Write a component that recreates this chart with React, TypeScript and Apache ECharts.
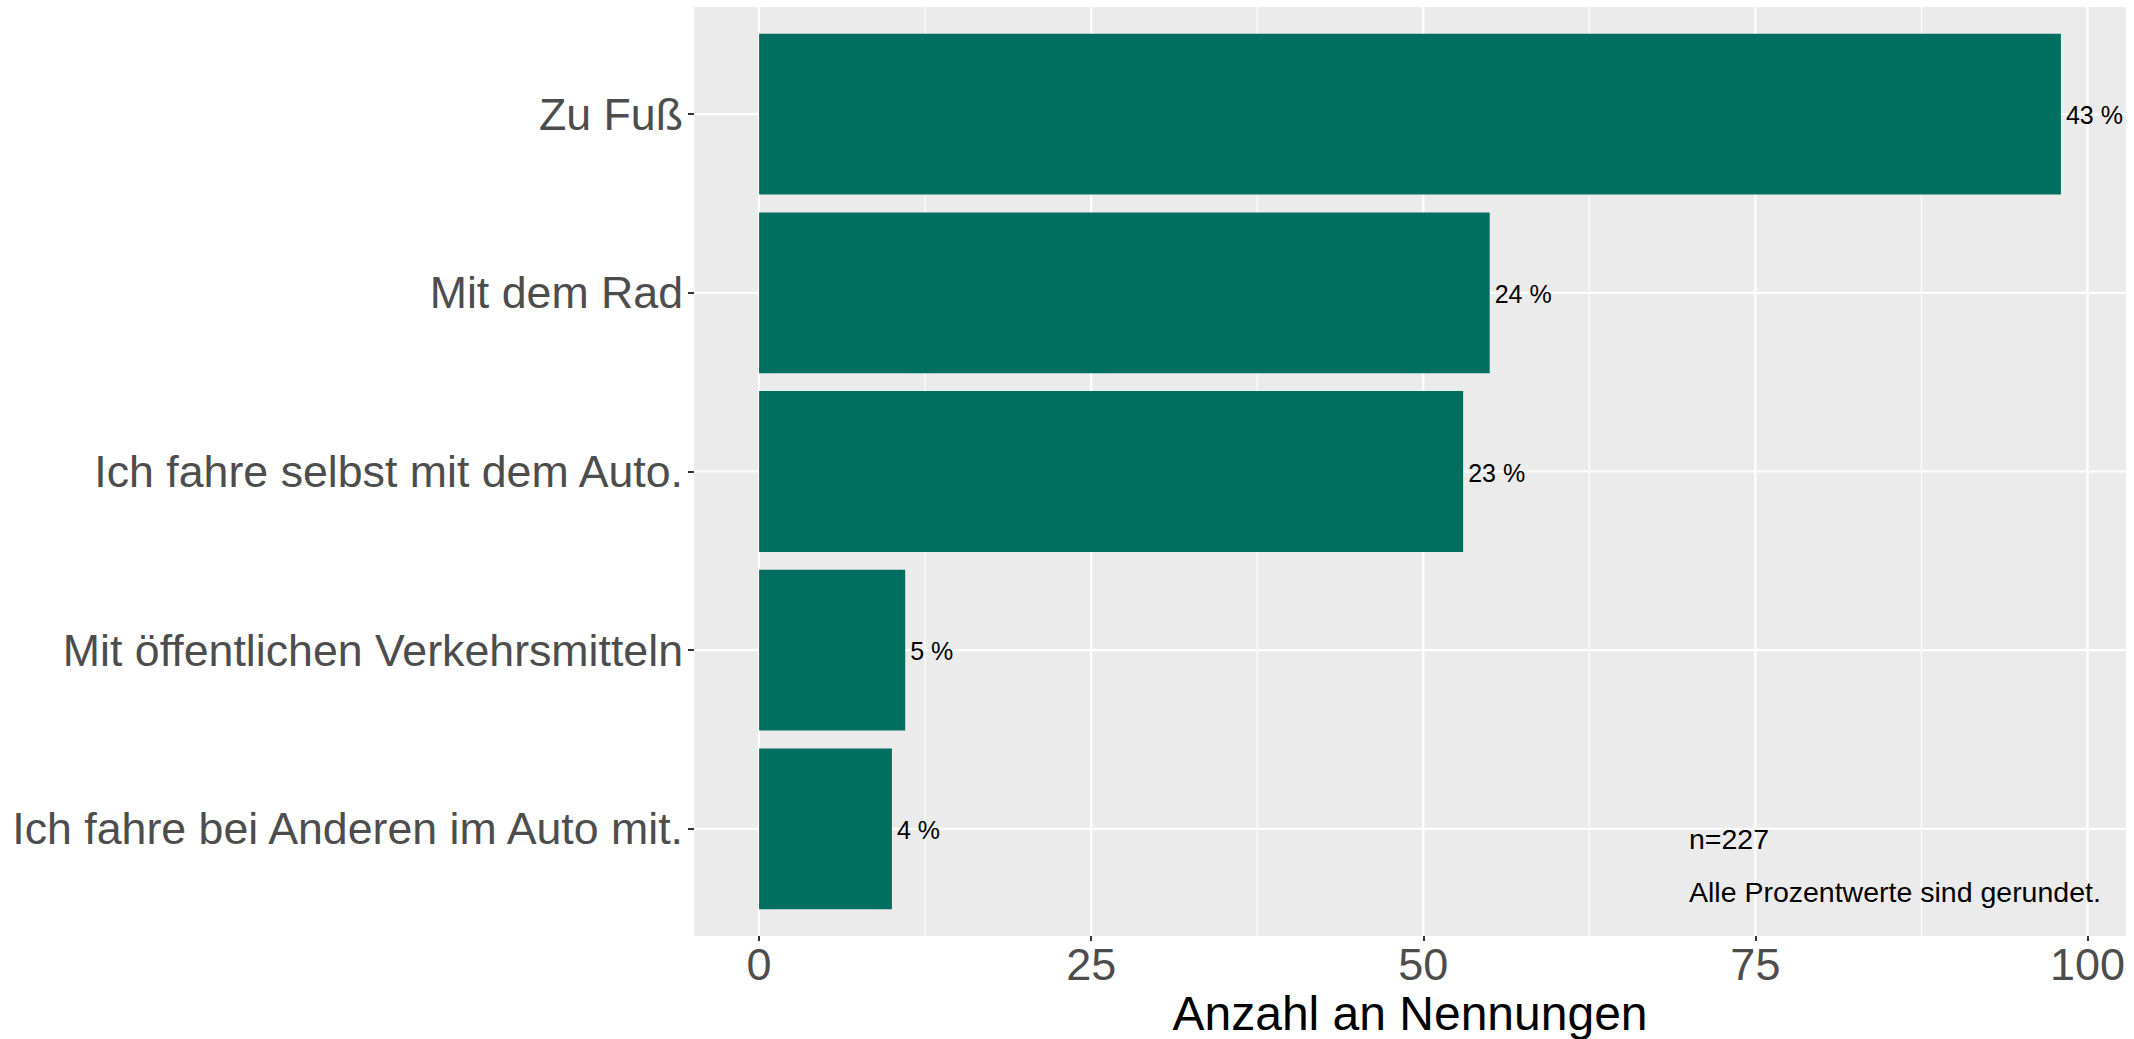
import React, { useEffect, useRef } from "react";
import * as echarts from "echarts";

const categories = [
  "Zu Fuß",
  "Mit dem Rad",
  "Ich fahre selbst mit dem Auto.",
  "Mit öffentlichen Verkehrsmitteln",
  "Ich fahre bei Anderen im Auto mit.",
];
const counts = [98, 55, 53, 11, 10];
const percents = [43, 24, 23, 5, 4];
const xTicks = [0, 25, 50, 75, 100];
const xMinorLines = [12.5, 37.5, 62.5, 87.5];
const noteTexts = ["n=227", "Alle Prozentwerte sind gerundet."];
const xTitle = "Anzahl an Nennungen";

const FONT = "Liberation Sans, Arial, sans-serif";
const X_MIN = -4.9;
const X_MAX = 102.9;
const Y_MIN = 0.4;
const Y_MAX = 5.6;
const catPos = categories.map((_, i) => i + 1);

const GRID_LEFT = 694;
const GRID_TOP = 7;
const GRID_W = 1432;
const GRID_H = 929;

export default function App() {
  const ref = useRef<HTMLDivElement>(null);

  useEffect(() => {
    document.body.style.margin = "0";
    const chart = echarts.init(ref.current!, undefined, { renderer: "svg" });

    const vLine = (width: number) => (params: any, api: any) => {
      const v = api.value(0);
      const a = api.coord([v, Y_MIN]);
      const b = api.coord([v, Y_MAX]);
      return {
        type: "line",
        shape: { x1: a[0], y1: a[1], x2: b[0], y2: b[1] },
        style: { stroke: "#FFFFFF", lineWidth: width },
        silent: true,
      };
    };

    const option: any = {
      animation: false,
      backgroundColor: "#FFFFFF",
      grid: {
        left: GRID_LEFT,
        top: GRID_TOP,
        width: GRID_W,
        height: GRID_H,
        show: true,
        backgroundColor: "#EBEBEB",
        borderWidth: 0,
        containLabel: false,
        outerBoundsMode: "none",
      },
      graphic: [
        {
          type: "text",
          x: GRID_LEFT + GRID_W / 2,
          y: 1013,
          silent: true,
          style: {
            text: xTitle,
            fontSize: 48,
            lineHeight: 44,
            fontFamily: FONT,
            fill: "#000000",
            align: "center",
            verticalAlign: "middle",
          },
        },
      ],
      xAxis: {
        type: "value",
        min: X_MIN,
        max: X_MAX,
        axisLine: { show: false, onZero: false },
        axisTick: {
          show: true,
          customValues: xTicks,
          length: 5,
          lineStyle: { color: "#333333", width: 2 },
        },
        axisLabel: {
          customValues: xTicks,
          fontSize: 45,
          color: "#4D4D4D",
          fontFamily: FONT,
          margin: 6,
          formatter: (v: number) => String(v),
        },
        splitLine: { show: false },
      },
      yAxis: {
        type: "value",
        min: Y_MIN,
        max: Y_MAX,
        inverse: true,
        axisLine: { show: false, onZero: false },
        axisTick: {
          show: true,
          customValues: catPos,
          length: 6,
          lineStyle: { color: "#333333", width: 2 },
        },
        axisLabel: {
          customValues: catPos,
          fontSize: 44.7,
          color: "#4D4D4D",
          fontFamily: FONT,
          margin: 11,
          formatter: (v: number) => categories[Math.round(v) - 1] ?? "",
        },
        splitLine: { show: false },
      },
      series: [
        {
          type: "custom",
          name: "minor-v",
          data: xMinorLines.map((v) => [v, 1]),
          renderItem: vLine(1.1),
          silent: true,
        },
        {
          type: "custom",
          name: "major-v",
          data: xTicks.map((v) => [v, 1]),
          renderItem: vLine(2.2),
          silent: true,
        },
        {
          type: "custom",
          name: "major-h",
          data: catPos.map((p) => [0, p]),
          renderItem: (params: any, api: any) => {
            const p = api.value(1);
            const a = api.coord([X_MIN, p]);
            const b = api.coord([X_MAX, p]);
            return {
              type: "line",
              shape: { x1: a[0], y1: a[1], x2: b[0], y2: b[1] },
              style: { stroke: "#FFFFFF", lineWidth: 2.2 },
              silent: true,
            };
          },
          silent: true,
        },
        {
          type: "custom",
          name: "bars",
          data: counts.map((c, i) => [c, catPos[i]]),
          renderItem: (params: any, api: any) => {
            const v = api.value(0);
            const p = api.value(1);
            const a = api.coord([0, p - 0.45]);
            const b = api.coord([v, p + 0.45]);
            const x = Math.min(a[0], b[0]);
            const y = Math.min(a[1], b[1]);
            const w = Math.abs(b[0] - a[0]);
            const h = Math.abs(b[1] - a[1]);
            return {
              type: "group",
              children: [
                {
                  type: "rect",
                  shape: { x, y, width: w, height: h },
                  style: { fill: "#006F60" },
                },
                {
                  type: "text",
                  x: x + w + 5,
                  y: y + h / 2 + 1,
                  style: {
                    text: percents[params.dataIndex] + " %",
                    fontSize: 25,
                    fontFamily: FONT,
                    fill: "#000000",
                    align: "left",
                    verticalAlign: "middle",
                  },
                },
              ],
            };
          },
        },
        {
          type: "custom",
          name: "notes",
          data: [
            [70, 5.058],
            [70, 5.354],
          ],
          renderItem: (params: any, api: any) => {
            const pt = api.coord([api.value(0), api.value(1)]);
            return {
              type: "text",
              x: pt[0],
              y: pt[1],
              style: {
                text: noteTexts[params.dataIndex],
                fontSize: 28.5,
                fontFamily: FONT,
                fill: "#000000",
                align: "left",
                verticalAlign: "middle",
              },
            };
          },
          silent: true,
        },
      ],
    };

    chart.setOption(option);
    return () => chart.dispose();
  }, []);

  return (
    <div
      ref={ref}
      style={{ position: "absolute", left: 0, top: 0, width: 2134, height: 1039 }}
    />
  );
}
